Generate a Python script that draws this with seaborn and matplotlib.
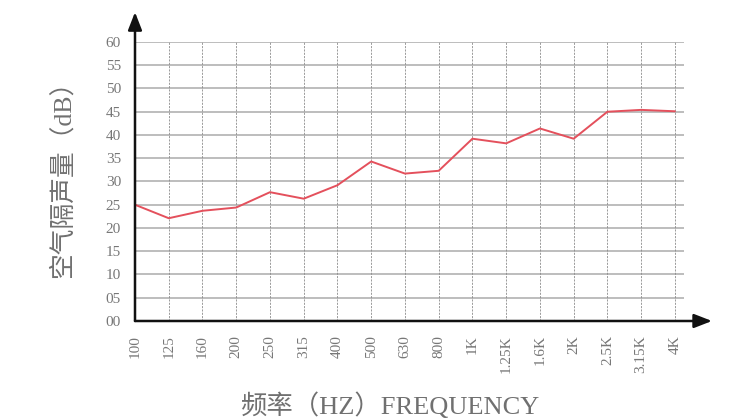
import matplotlib
matplotlib.use("Agg")
import matplotlib.pyplot as plt
import seaborn as sns
import pandas as pd

freq_labels = ["100", "125", "160", "200", "250", "315", "400", "500", "630", "800",
               "1K", "1.25K", "1.6K", "2K", "2.5K", "3.15K", "4K"]
sound_insulation = [25.0, 22.1, 23.7, 24.4, 27.7, 26.3, 29.2, 34.3, 31.7, 32.3,
                    39.2, 38.2, 41.4, 39.2, 45.0, 45.4, 45.1]
y_ticks = [0, 5, 10, 15, 20, 25, 30, 35, 40, 45, 50, 55, 60]
y_tick_labels = ["00", "05", "10", "15", "20", "25", "30", "35", "40", "45", "50", "55", "60"]

sns.set_theme(style="white")
plt.rcParams['font.family'] = ['Liberation Serif', 'Noto Sans CJK SC', 'DejaVu Sans']

fig = plt.figure(figsize=(7.5, 4.19), dpi=100)
ax = fig.add_axes([0.18, 0.2339, 0.732, 0.6659])

df = pd.DataFrame({"freq": freq_labels, "value": sound_insulation})
n = len(freq_labels)

# grid
for yv in y_ticks[1:]:
    ax.axhline(yv, color="#bdbdbd", lw=1.4, zorder=1)
for i in range(n):
    ax.axvline(i, color="#8a8a8a", lw=0.6, ls=(0, (2.5, 1.5)), zorder=1)

sns.lineplot(data=df, x="freq", y="value", ax=ax, color="#e4505c", lw=1.4, zorder=3, sort=False)

ax.set_xlim(0, n - 1 + 0.27)
ax.set_ylim(0, 60)
ax.set_yticks(y_ticks)
ax.set_yticklabels(y_tick_labels, color="#777777", fontsize=11)
ax.set_xticks(range(n))
ax.set_xticklabels(freq_labels, rotation=90, color="#777777", fontsize=11)
ax.tick_params(axis="y", length=0, pad=10)
ax.tick_params(axis="x", length=0, pad=10)

for s in ax.spines.values():
    s.set_visible(False)

# axis arrows
ax.annotate("", xy=(0, 1.107), xytext=(0, 0), xycoords="axes fraction",
            arrowprops=dict(arrowstyle="-|>,head_width=0.35,head_length=0.9", color="#111111", lw=1.8,
                            shrinkA=0, shrinkB=0), annotation_clip=False)
ax.annotate("", xy=(1.051, 0), xytext=(0, 0), xycoords="axes fraction",
            arrowprops=dict(arrowstyle="-|>,head_width=0.35,head_length=0.9", color="#111111", lw=1.8,
                            shrinkA=0, shrinkB=0), annotation_clip=False)

ax.set_xlabel("频率（HZ）FREQUENCY", color="#707070", fontsize=19)
ax.set_ylabel("空气隔声量（dB）", color="#707070", fontsize=18.5)
ax.xaxis.set_label_coords(0.464, -0.255)
ax.yaxis.set_label_coords(-0.11, 0.53)

fig.savefig("out.png", dpi=100)
